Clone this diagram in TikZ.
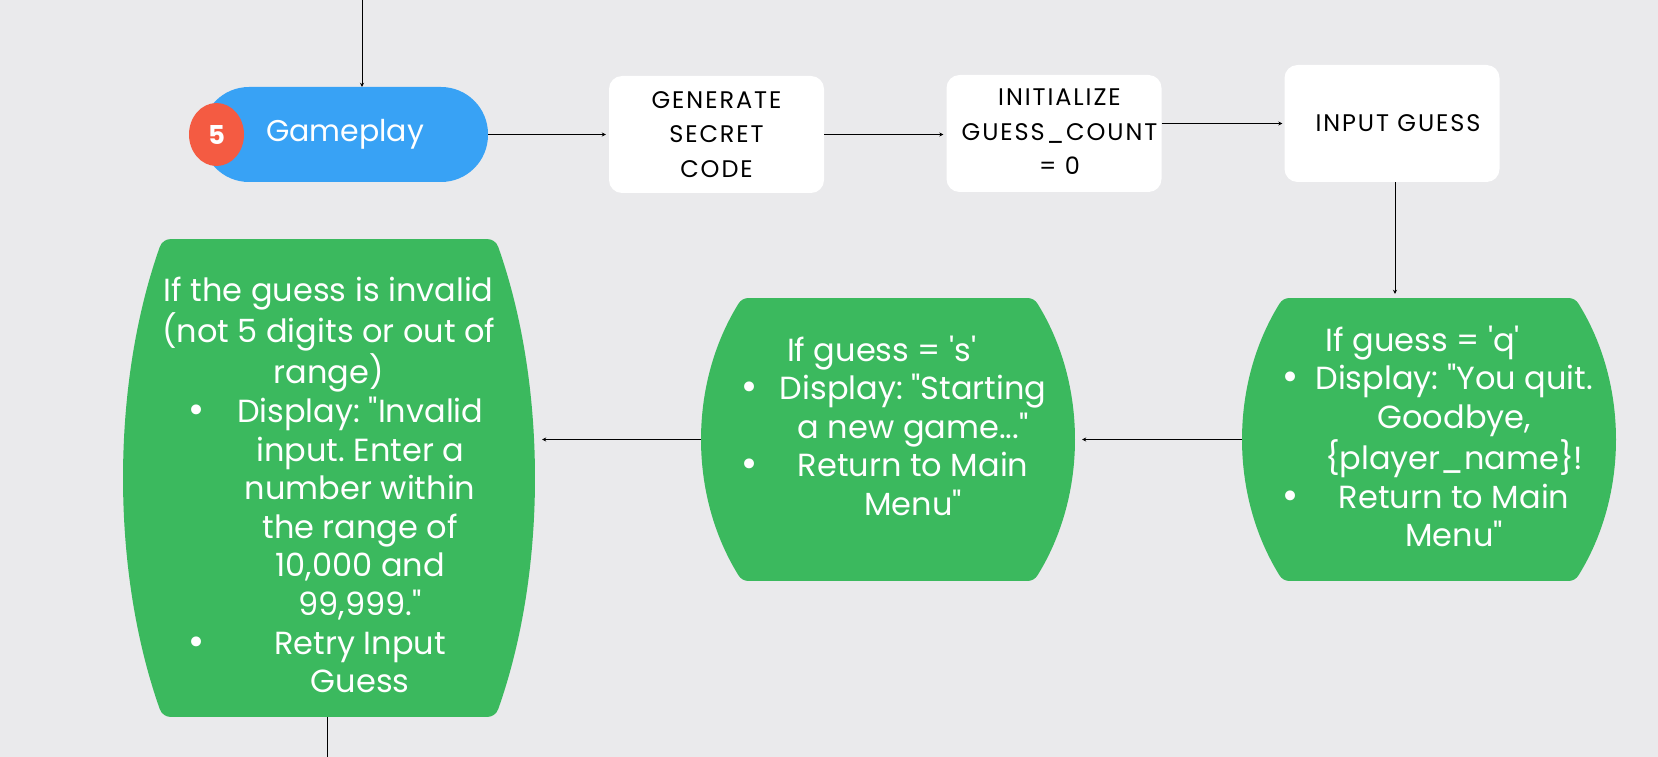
\documentclass[tikz,border=0pt]{standalone}
\usepackage{fontspec}
\setmainfont{Poppins}[Ligatures=TeXOff]
\newfontfamily\boxfont{Poppins}[LetterSpace=8,Ligatures=TeXOff]
\newfontfamily\bulletfont{DejaVu Sans}
\usetikzlibrary{arrows.meta,shapes.geometric}
\frenchspacing
\definecolor{bg}{RGB}{234,234,236}
\definecolor{pillblue}{RGB}{56,162,245}
\definecolor{badgered}{RGB}{244,91,66}
\definecolor{gr}{RGB}{59,185,94}
\newcommand\hd[1]{\multicolumn{2}{@{}c@{}}{\makebox[285pt]{#1}}}
\newcommand\bl[1]{\makebox[63pt][l]{\bulletfont\fontsize{34pt}{38.6pt}\selectfont •}&\makebox[222pt]{#1}}
\newcommand\ct[1]{&\makebox[222pt]{#1}}
\tikzset{
  arr/.style={-{Stealth[length=4pt,width=4pt]}, line width=1pt, black},
  pill/.style={rectangle, rounded corners=47pt, minimum width=286pt, minimum height=95pt, inner sep=0, fill=pillblue, text=white, font=\fontsize{30pt}{36pt}\selectfont},
  badge/.style={ellipse, minimum width=55pt, minimum height=63pt, inner sep=0, fill=badgered, text=white, font=\bfseries\fontsize{26pt}{30pt}\selectfont},
  wbox/.style={rectangle, rounded corners=13pt, fill=white, minimum width=215pt, minimum height=117pt, inner sep=0, align=center, font=\boxfont\fontsize{24pt}{34.5pt}\selectfont},
  % #1 half width, #2 half height, #3 vertical radius of the side ellipse
  gshape/.style n args={3}{rectangle, minimum width={2*#1*1pt}, minimum height={2*#2*1pt}, inner sep=0,
    path picture={
      \pgfmathsetmacro\ga{#1-12}\pgfmathsetmacro\gb{#3-12}\pgfmathsetmacro\gt{asin((#2-12)/(#3-12))}
      \filldraw[gr, line width=24pt, line join=round]
        ([shift={(\gt:\ga pt and \gb pt)}]path picture bounding box.center)
        -- ([shift={(180-\gt:\ga pt and \gb pt)}]path picture bounding box.center)
        arc[start angle=180-\gt, end angle=180+\gt, x radius=\ga pt, y radius=\gb pt]
        -- ([shift={(-\gt:\ga pt and \gb pt)}]path picture bounding box.center)
        arc[start angle=-\gt, end angle=\gt, x radius=\ga pt, y radius=\gb pt]
        -- cycle;}},
  gtext/.style={inner sep=0, text=white, anchor=base west, font=\fontsize{32pt}{38.6pt}\selectfont}
}
\begin{document}
\begin{tikzpicture}[x=1pt,y=-1pt]
\useasboundingbox (0,0) rectangle (1658,757);
\fill[bg] (0,0) rectangle (1658,757);
% top row
\node[pill] (pill) at (345,134.5) {Gameplay};
\node[badge] (badge) at (216.5,134.5) {5};
\node[wbox] (gen) at (716.5,134.5) {GENERATE\\SECRET\\CODE};
\node[wbox] (init) at (1054,133.5) {\hspace*{11pt}\begin{tabular}{@{}c@{}}INITIALIZE\\GUESS\_COUNT\\= 0\end{tabular}};
\node[wbox] (inp) at (1392,123.5) {\hspace*{12pt}INPUT GUESS};
% green shapes
\node[gshape={187}{141.5}{226}] (q) at (1429,439.5) {};
\node[gshape={187}{141.5}{226}] (s) at (888,439.5) {};
\node[gshape={206}{239}{403}] (inv) at (329,478) {};
\node[gtext] (qtext) at (1280,351) {\begin{tabular}[t]{@{}l@{}l@{}}
\hd{If guess = 'q'}\\
\bl{Display: "You quit.}\\
\ct{Goodbye,}\\
\ct{\{player\_name\}!}\\
\bl{Return to Main}\\
\ct{Menu"}
\end{tabular}};
\node[gtext] (stext) at (739,361) {\begin{tabular}[t]{@{}l@{}l@{}}
\hd{If guess = 's'}\\
\bl{Display: "Starting}\\
\ct{a new game..."}\\
\bl{Return to Main}\\
\ct{Menu"}
\end{tabular}};
\node[gtext] (invtext) at (186,301) {\begin{tabular}[t]{@{}l@{}l@{}}
\hd{If the guess is invalid}\\
\hd{(not 5 digits or out of}\\
\hd{range)}\\
\bl{Display: "Invalid}\\
\ct{input. Enter a}\\
\ct{number within}\\
\ct{the range of}\\
\ct{10,000 and}\\
\ct{99,999."}\\
\bl{Retry Input}\\
\ct{Guess}
\end{tabular}};
% connectors
\coordinate (topin) at (362,0);
\coordinate (vline) at (1395,0);
\coordinate (botout) at (327,757);
\draw[arr] (topin) -- (topin |- pill.north);
\draw[arr, shorten >=3pt] (pill.east) -- (gen.west);
\draw[arr, shorten >=3pt] (gen.east) -- (gen.east -| init.west);
\draw[arr, shorten >=2pt] (init.east |- inp.west) -- (inp.west);
\draw[arr, shorten >=4pt] (inp.south -| vline) -- (q.north -| vline);
\draw[arr, shorten >=7pt] (q.west) -- (q.west -| s.east);
\draw[arr, shorten >=7pt] (s.west) -- (s.west -| inv.east);
\draw[line width=1pt] (inv.south -| botout) -- (botout);
\end{tikzpicture}
\end{document}
